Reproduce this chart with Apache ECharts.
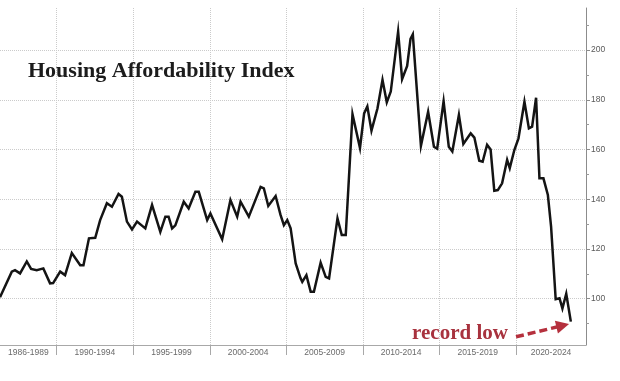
<!DOCTYPE html>
<html>
<head>
<meta charset="utf-8">
<script src="https://cdn.jsdelivr.net/npm/echarts@6/dist/echarts.min.js"></script>
<style>html,body{margin:0;padding:0;background:#fff;}#c{width:620px;height:381px;}</style>
</head>
<body>
<div id="c"></div>
<script>
const years = [
  1986.30, 1987.07, 1987.28, 1987.61, 1988.05, 1988.33, 1988.70, 1989.13, 1989.57, 1989.77,
  1990.23, 1990.55, 1990.99, 1991.54, 1991.75, 1992.11, 1992.52, 1992.84, 1993.28, 1993.61,
  1994.04, 1994.26, 1994.59, 1994.92, 1995.25, 1995.79, 1996.23, 1996.77, 1997.10, 1997.31,
  1997.54, 1997.75, 1998.30, 1998.62, 1999.06, 1999.28, 1999.83, 2000.04, 2000.81, 2001.35,
  2001.79, 2002.01, 2002.55, 2003.32, 2003.53, 2003.82, 2004.30, 2004.62, 2004.84, 2005.06,
  2005.28, 2005.61, 2005.93, 2006.04, 2006.31, 2006.59, 2006.80, 2007.24, 2007.57, 2007.79,
  2008.34, 2008.62, 2008.88, 2009.32, 2009.81, 2010.08, 2010.29, 2010.56, 2010.95, 2011.28,
  2011.56, 2011.82, 2012.30, 2012.56, 2012.89, 2013.11, 2013.26, 2013.79, 2014.26, 2014.64,
  2014.85, 2015.27, 2015.61, 2015.84, 2016.27, 2016.56, 2017.04, 2017.28, 2017.60, 2017.82,
  2018.11, 2018.34, 2018.58, 2018.81, 2019.09, 2019.42, 2019.59, 2019.89, 2020.16, 2020.55,
  2020.84, 2021.05, 2021.31, 2021.53, 2021.79, 2022.08, 2022.29, 2022.59, 2022.84, 2023.03,
  2023.28, 2023.58
];
// Housing Affordability Index values
const values = [
  100.6, 110.9, 111.5, 110.2, 115.0, 112.0, 111.5, 112.2, 106.2, 106.3,
  110.9, 109.5, 118.4, 113.5, 113.5, 124.3, 124.5, 131.6, 138.4, 137.0,
  142.1, 141.0, 131.0, 127.9, 131.0, 128.3, 137.7, 126.9, 133.0, 133.0,
  128.3, 129.5, 139.0, 136.3, 143.0, 143.0, 131.6, 134.3, 123.9, 139.7,
  133.0, 139.0, 133.0, 145.0, 144.4, 137.3, 141.3, 133.7, 129.6, 131.6,
  128.3, 114.2, 108.2, 106.8, 109.5, 102.8, 102.8, 114.5, 108.8, 108.2,
  132.3, 125.6, 125.6, 174.2, 160.6, 174.5, 177.3, 167.6, 176.5, 188.0,
  179.0, 183.3, 207.4, 188.3, 193.6, 204.5, 206.3, 161.5, 175.2, 161.1,
  160.3, 179.4, 161.1, 159.2, 173.9, 162.2, 166.5, 164.8, 155.5, 155.1,
  161.9, 160.0, 143.4, 143.7, 146.4, 155.8, 152.5, 159.8, 164.5, 179.2,
  168.5, 169.2, 180.8, 148.4, 148.4, 141.7, 129.0, 99.8, 100.2, 96.1,
  102.0, 90.8
];
const periodLabels = ['1986-1989', '1990-1994', '1995-1999', '2000-2004', '2005-2009', '2010-2014', '2015-2019', '2020-2024'];
const periodBreaks = [1990, 1995, 2000, 2005, 2010, 2015, 2020];
const yTickLabels = [100, 120, 140, 160, 180, 200];
const yMinorTicks = [90, 110, 130, 150, 170, 190, 210];
const titleText = 'Housing Affordability Index';
const noteText = 'record low';
const noteAt = [2016.34, 86.0];
const arrowFrom = [2020.0, 84.7];
const arrowTo = [2023.05, 89.2];

const X_MIN = 1986.3, X_MAX = 2024.57;
const Y_MIN = 81.4, Y_MAX = 216.9;

const edges = [X_MIN].concat(periodBreaks, [X_MAX]);
const periodCenters = periodLabels.map((_, i) => +((edges[i] + edges[i + 1]) / 2).toFixed(3));

const chart = echarts.init(document.getElementById('c'), null, { renderer: 'canvas' });
const gridLine = { show: true, lineStyle: { type: 'dotted', color: '#cbcbcb', width: 1 } };
const lblFont = 'Liberation Sans';

chart.setOption({
  animation: false,
  backgroundColor: '#ffffff',
  title: {
    text: titleText, left: 28, top: 60, padding: 0,
    textStyle: { fontFamily: 'Liberation Serif', fontWeight: 'bold', fontSize: 22, color: '#1c1c1c' }
  },
  grid: { left: 0, right: 34, top: 8, bottom: 36, containLabel: false },
  xAxis: [
    {
      type: 'value', min: X_MIN, max: X_MAX, position: 'bottom',
      axisLine: { show: true, onZero: false, lineStyle: { color: '#a8a8a8', width: 1 } },
      axisTick: { show: true, customValues: periodBreaks, length: 10, lineStyle: { color: '#a8a8a8' } },
      axisLabel: { show: false },
      splitLine: gridLine
    },
    {
      type: 'value', min: X_MIN, max: X_MAX, position: 'bottom',
      axisLine: { show: false, onZero: false }, axisTick: { show: false }, splitLine: { show: false },
      axisLabel: {
        show: true, customValues: periodCenters, margin: 3,
        fontFamily: lblFont, fontSize: 8.5, color: '#6a6a6a',
        formatter: function (v) {
          for (let i = 0; i < periodCenters.length; i++) {
            if (Math.abs(periodCenters[i] - v) < 0.01) return periodLabels[i];
          }
          return '';
        }
      }
    }
  ],
  yAxis: [
    {
      type: 'value', min: Y_MIN, max: Y_MAX, position: 'right',
      axisLine: { show: true, onZero: false, lineStyle: { color: '#8c8c8c', width: 1 } },
      axisTick: { show: true, customValues: yTickLabels, length: 4, lineStyle: { color: '#8c8c8c' } },
      axisLabel: { show: true, customValues: yTickLabels, margin: 5, fontFamily: lblFont, fontSize: 8.5, color: '#5a5a5a' },
      splitLine: gridLine
    },
    {
      type: 'value', min: Y_MIN, max: Y_MAX, position: 'right',
      axisLine: { show: false, onZero: false },
      axisTick: { show: true, customValues: yMinorTicks, length: 3, lineStyle: { color: '#9a9a9a' } },
      axisLabel: { show: false }, splitLine: { show: false }
    }
  ],
  series: [{
    type: 'line',
    xAxisIndex: 0, yAxisIndex: 0,
    data: years.map((y, i) => [y, values[i]]),
    showSymbol: false,
    lineStyle: { color: '#141414', width: 2.5, join: 'miter' },
    silent: true,
    markLine: {
      silent: true,
      symbol: ['none', 'triangle'], symbolSize: 13,
      label: { show: false },
      lineStyle: { type: [8, 4], color: '#b5303d', width: 3.5 },
      itemStyle: { color: '#b5303d' },
      emphasis: { disabled: true },
      data: [[{ coord: arrowFrom }, { coord: arrowTo }]]
    },
    markPoint: {
      silent: true,
      symbol: 'circle', symbolSize: 1,
      itemStyle: { color: 'rgba(0,0,0,0)' },
      label: {
        show: true, position: 'inside', formatter: noteText,
        fontFamily: 'Liberation Serif', fontWeight: 'bold', fontSize: 21, color: '#a8323e'
      },
      data: [{ coord: noteAt }]
    }
  }]
});
</script>
</body>
</html>
